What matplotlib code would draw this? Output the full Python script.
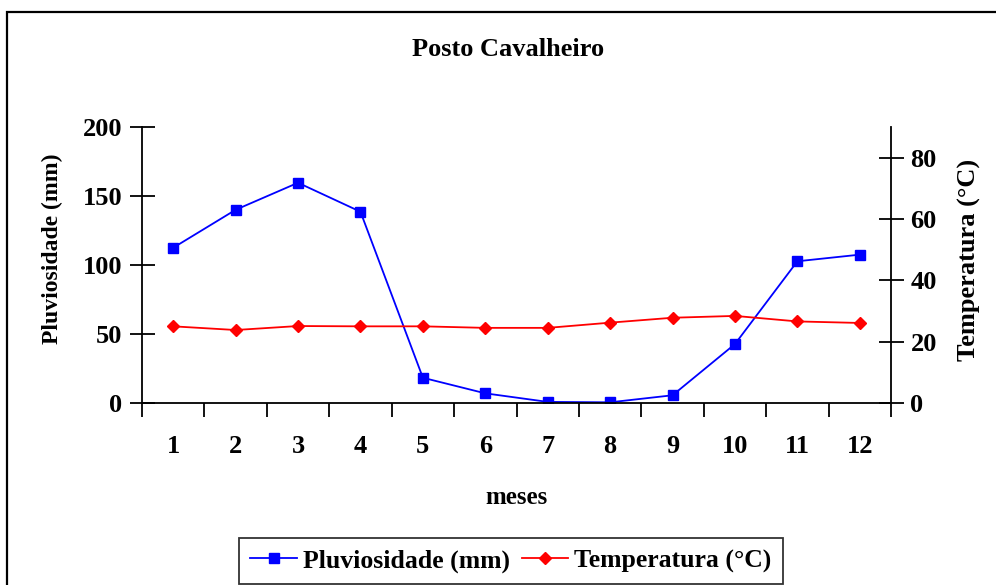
import matplotlib
matplotlib.use("Agg")
import matplotlib.pyplot as plt
from matplotlib.patches import Rectangle

# monthly data for Posto Cavalheiro
meses = [1, 2, 3, 4, 5, 6, 7, 8, 9, 10, 11, 12]
pluviosidade = [112.5, 140, 159.6, 138.6, 18.3, 7, 0.8, 0.5, 5.6, 42.7, 102.7, 107.5]
temperatura = [25.0, 23.8, 25.1, 25.0, 25.0, 24.5, 24.5, 26.2, 27.8, 28.4, 26.6, 26.1]

plt.rcParams['font.family'] = ['Liberation Serif', 'DejaVu Serif']
plt.rcParams['font.weight'] = 'bold'

fig = plt.figure(figsize=(9.96, 5.85), dpi=100)
ax1 = fig.add_axes([142/996, 1-403/585, (891-142)/996, (403-127)/585])
ax2 = ax1.twinx()

# outer frame of the chart area
fig.patches.append(Rectangle((7/996, -0.1), 1.1, 1 - 12/585 + 0.1,
                             transform=fig.transFigure, fill=False,
                             edgecolor='black', linewidth=1.6))

l1, = ax1.plot(meses, pluviosidade, color='#0000ff', marker='s', markersize=7.5,
               linewidth=1.3, label='Pluviosidade (mm)')
l2, = ax2.plot(meses, temperatura, color='#ff0000', marker='D', markersize=6.5,
               linewidth=1.3, label='Temperatura (°C)')

ax1.set_xlim(0.5, 12.5)
ax1.set_ylim(0, 200)
ax2.set_ylim(0, 90)
ax1.set_yticks([0, 50, 100, 150, 200])
ax2.set_yticks([0, 20, 40, 60, 80])

# ticks between categories, labels at the centres
ax1.set_xticks([m + 0.5 for m in range(0, 13)])
ax1.set_xticklabels([])
ax1.set_xticks(meses, minor=True)
ax1.set_xticklabels([str(m) for m in meses], minor=True)
ax1.tick_params(axis='x', which='major', direction='out', length=10, width=1.3)
ax1.tick_params(axis='x', which='minor', length=0, pad=23, labelsize=19)
ax1.tick_params(axis='y', direction='inout', length=18, width=1.3, pad=5, labelsize=19)
ax2.tick_params(axis='y', direction='inout', length=18, width=1.3, pad=5, labelsize=19)

for ax in (ax1, ax2):
    ax.spines['top'].set_visible(False)
    for s in ax.spines.values():
        s.set_linewidth(1.3)
ax1.spines['right'].set_visible(False)
ax2.spines['left'].set_visible(False)
ax2.spines['bottom'].set_visible(False)

ax1.set_ylabel('Pluviosidade (mm)', fontsize=17, fontweight='bold')
ax1.yaxis.set_label_coords(-0.105, 0.558)
ax2.set_ylabel('Temperatura (°C)', fontsize=19, fontweight='bold')
ax2.yaxis.set_label_coords(1.0895, 0.518)
ax1.set_xlabel('meses', fontsize=18, fontweight='bold', labelpad=20)
fig.text(508/996, 1-50/585, 'Posto Cavalheiro', ha='center', va='center',
         fontsize=19, fontweight='bold')

leg = fig.legend(handles=[l1, l2], loc='center', bbox_to_anchor=(511/996, 1-561/585),
                 ncol=2, frameon=True, fancybox=False, edgecolor='black',
                 handlelength=1.8, columnspacing=0.45, handletextpad=0.25,
                 borderpad=0.45, borderaxespad=0,
                 prop={'weight': 'bold', 'size': 18.5})
leg.get_frame().set_linewidth(1.3)

fig.savefig('out.png', dpi=100)
